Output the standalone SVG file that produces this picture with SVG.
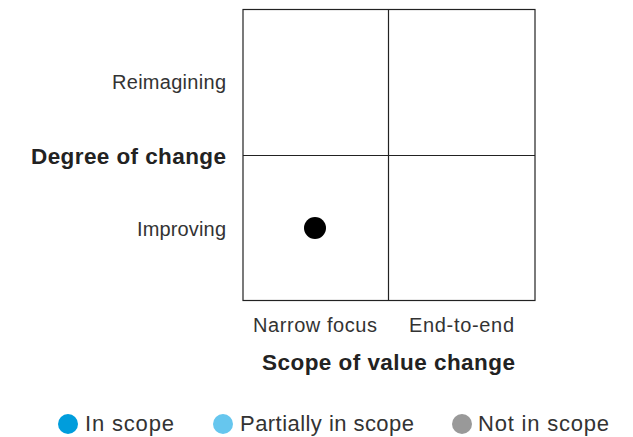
<svg xmlns="http://www.w3.org/2000/svg" width="633" height="437" viewBox="0 0 633 437">
<style>
text{font-family:"Liberation Sans",Arial,sans-serif;fill:#333}
.lbl{font-size:20px}
.ttl{font-size:22.5px;font-weight:bold;fill:#222}
.leg{font-size:22px}
.grid{fill:none;stroke:#222;stroke-width:1.2}
</style>
<rect width="633" height="437" fill="#fff"/>
<g id="grid">
<rect class="grid" x="243" y="9.5" width="292" height="291"/>
<line class="grid" x1="388.5" y1="9.5" x2="388.5" y2="300.5"/>
<line class="grid" x1="243" y1="155.5" x2="535" y2="155.5"/>
</g>
<g id="y-axis">
<text class="lbl" x="226" y="89" text-anchor="end" textLength="114">Reimagining</text>
<text class="ttl" x="226" y="164" text-anchor="end" textLength="195">Degree of change</text>
<text class="lbl" x="226" y="236" text-anchor="end" textLength="89">Improving</text>
</g>
<g id="x-axis">
<text class="lbl" x="315" y="332" text-anchor="middle" textLength="124">Narrow focus</text>
<text class="lbl" x="461.5" y="332" text-anchor="middle" textLength="105">End-to-end</text>
<text class="ttl" x="388.5" y="370" text-anchor="middle" textLength="253">Scope of value change</text>
</g>
<g id="point"><circle cx="315" cy="228" r="11" fill="#000"/></g>
<g id="legend">
<circle cx="68" cy="424" r="10" fill="#009ddc"/>
<text class="leg" x="85" y="431" textLength="89">In scope</text>
<circle cx="223" cy="424" r="10" fill="#66c6ee"/>
<text class="leg" x="240" y="431" textLength="174">Partially in scope</text>
<circle cx="462" cy="424" r="10" fill="#999"/>
<text class="leg" x="478" y="431" textLength="131">Not in scope</text>
</g>
</svg>
